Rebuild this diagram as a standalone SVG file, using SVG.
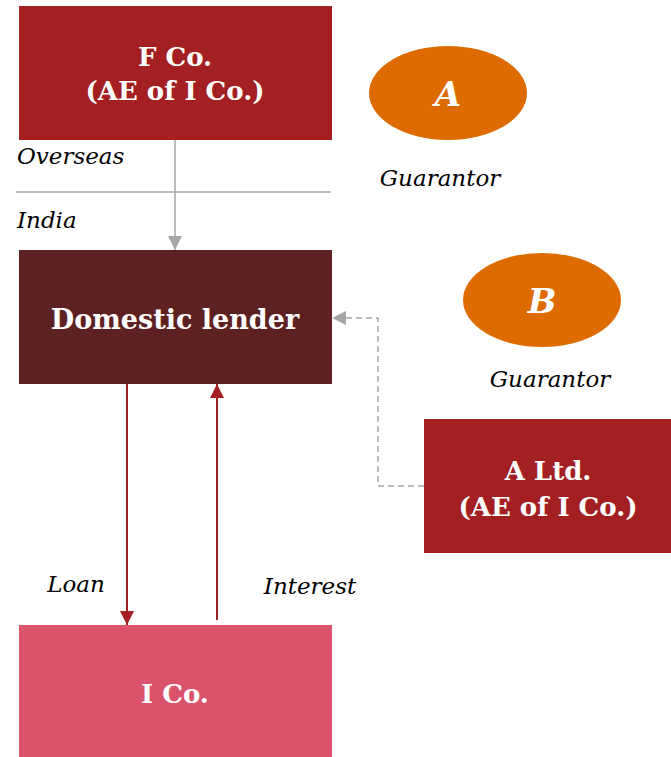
<svg xmlns="http://www.w3.org/2000/svg" width="671" height="757" viewBox="0 0 671 757">
<defs>
<style>
.t{font-family:"DejaVu Serif","Liberation Serif",serif;font-weight:bold;fill:#fff;text-anchor:middle;font-size:26px}
.l{font-family:"DejaVu Serif","Liberation Serif",serif;font-style:italic;fill:#000;font-size:23px}
.g{font-size:34px;font-style:italic}
</style>
</defs>
<rect width="671" height="757" fill="#fff"/>
<line x1="16" y1="192" x2="331" y2="192" stroke="#A6A6A6" stroke-width="1.5"/>
<text class="l" x="17" y="164">Overseas</text>
<text class="l" x="17" y="228">India</text>
<g id="connectors">
<path d="M175,140V250" stroke="#A6A6A6" stroke-width="1.5" fill="none"/>
<path d="M168,236L175,250L182,236z" fill="#A6A6A6"/>
<path d="M424,486H378V318H332" stroke="#A6A6A6" stroke-width="1.5" stroke-dasharray="6,4" fill="none"/>
<path d="M346,311L332,318L346,325z" fill="#A6A6A6"/>
<path d="M127,384V625" stroke="#A31F22" stroke-width="2" fill="none"/>
<path d="M120,611L127,625L134,611z" fill="#A31F22"/>
<path d="M217,620V384" stroke="#A31F22" stroke-width="2" fill="none"/>
<path d="M210,398L217,384L224,398z" fill="#A31F22"/>
<text class="l" x="76" y="592" text-anchor="middle">Loan</text>
<text class="l" x="310" y="594" text-anchor="middle">Interest</text>
</g>
<g id="fco">
<rect x="19" y="6" width="313" height="134" fill="#A31F22"/>
<text class="t" x="175" y="66">F Co.</text>
<text class="t" x="175" y="100">(AE of I Co.)</text>
</g>
<g id="lender">
<rect x="19" y="250" width="313" height="134" fill="#5E2121"/>
<text class="t" x="175" y="329" style="font-size:27px">Domestic lender</text>
</g>
<g id="ico">
<rect x="19" y="625" width="313" height="132" fill="#DB536A"/>
<text class="t" x="175" y="703">I Co.</text>
</g>
<g id="altd">
<rect x="424" y="419" width="247" height="134" fill="#A31F22"/>
<text class="t" x="548" y="480">A Ltd.</text>
<text class="t" x="548" y="516">(AE of I Co.)</text>
</g>
<g id="gA">
<ellipse cx="448" cy="93" rx="79" ry="47" fill="#DD6B00"/>
<text class="t g" x="448" y="106">A</text>
<text class="l" x="440" y="186" text-anchor="middle">Guarantor</text>
</g>
<g id="gB">
<ellipse cx="542" cy="300" rx="79" ry="47" fill="#DD6B00"/>
<text class="t g" x="542" y="313">B</text>
<text class="l" x="550" y="387" text-anchor="middle">Guarantor</text>
</g>
</svg>
